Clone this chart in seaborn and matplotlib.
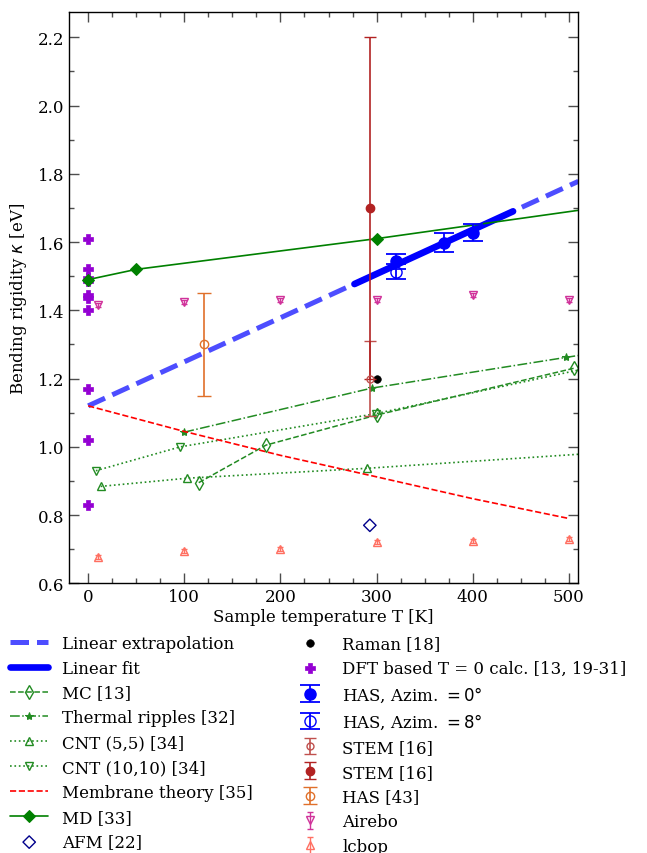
import matplotlib
matplotlib.use("Agg")
import matplotlib.pyplot as plt
import seaborn as sns
from matplotlib.ticker import MultipleLocator

# ---- data ------------------------------------------------------------------
extrap_T = [0, 510]
extrap_kappa = [1.12, 1.778]
fit_T = [277, 442]
fit_kappa = [1.477, 1.690]

mc_T = [115, 185, 300, 505]
mc_kappa = [0.895, 1.005, 1.093, 1.23]
ripples_T = [100, 295, 497, 520]
ripples_kappa = [1.043, 1.172, 1.262, 1.272]
cnt55_T = [13, 103, 290, 520]
cnt55_kappa = [0.884, 0.908, 0.937, 0.98]
cnt1010_T = [8, 96, 299, 520]
cnt1010_kappa = [0.93, 1.0, 1.097, 1.231]
membrane_T = [0, 100, 200, 300, 400, 500]
membrane_kappa = [1.12, 1.045, 0.975, 0.912, 0.848, 0.79]
md_T = [0, 50, 300, 520]
md_kappa = [1.49, 1.52, 1.61, 1.697]

afm_T = [293]
afm_kappa = [0.77]
raman_T = [300]
raman_kappa = [1.20]
dft_T = [0, 0, 0, 0, 0, 0, 0, 0, 0, 0]
dft_kappa = [1.61, 1.52, 1.495, 1.485, 1.445, 1.435, 1.40, 1.17, 1.02, 0.83]

has0_T = [320, 370, 400]
has0_kappa = [1.544, 1.598, 1.627]
has0_err = [0.022, 0.028, 0.025]
has8_T = [320]
has8_kappa = [1.513]
has8_err = [0.022]
stem_open_T = [293]
stem_open_kappa = [1.20]
stem_open_err = [0.11]
stem_filled_T = [293]
stem_filled_kappa = [1.70]
stem_filled_err = [0.50]
has43_T = [120]
has43_kappa = [1.30]
has43_err = [0.15]
airebo_T = [10, 100, 200, 300, 400, 500]
airebo_kappa = [1.415, 1.425, 1.43, 1.43, 1.445, 1.43]
lcbop_T = [10, 100, 200, 300, 400, 500]
lcbop_kappa = [0.676, 0.695, 0.70, 0.72, 0.725, 0.73]
small_err = 0.006

GREEN = "forestgreen"

sns.set_theme(style="ticks")
plt.rcParams["font.family"] = ["DejaVu Serif"]
plt.rcParams["mathtext.fontset"] = "dejavusans"
plt.rcParams["text.color"] = "black"
plt.rcParams["axes.labelcolor"] = "black"
plt.rcParams["xtick.color"] = "black"
plt.rcParams["ytick.color"] = "black"

fig = plt.figure(figsize=(6.47, 8.54), dpi=100)
ax = fig.add_axes([0.1066, 0.3158, 0.7874, 0.6693])

# ---- lines -----------------------------------------------------------------
sns.lineplot(x=extrap_T, y=extrap_kappa, ax=ax, color="#4d4dff", lw=3.6,
             linestyle="--", label="Linear extrapolation", sort=False)
sns.lineplot(x=fit_T, y=fit_kappa, ax=ax, color="#0000ff", lw=4.8,
             label="Linear fit", sort=False)
sns.lineplot(x=mc_T, y=mc_kappa, ax=ax, color=GREEN, lw=1.1, linestyle="--",
             marker="d", ms=7, markerfacecolor="none", markeredgecolor=GREEN,
             markeredgewidth=1.0, label="MC [13]", sort=False)
sns.lineplot(x=ripples_T, y=ripples_kappa, ax=ax, color=GREEN, lw=1.1,
             linestyle="-.", marker="*", ms=6, markeredgecolor=GREEN,
             label="Thermal ripples [32]", sort=False)
sns.lineplot(x=cnt55_T, y=cnt55_kappa, ax=ax, color=GREEN, lw=1.2,
             linestyle=":", marker="^", ms=6, markerfacecolor="none",
             markeredgecolor=GREEN, markeredgewidth=1.0,
             label="CNT (5,5) [34]", sort=False)
sns.lineplot(x=cnt1010_T, y=cnt1010_kappa, ax=ax, color=GREEN, lw=1.2,
             linestyle=":", marker="v", ms=6, markerfacecolor="none",
             markeredgecolor=GREEN, markeredgewidth=1.0,
             label="CNT (10,10) [34]", sort=False)
sns.lineplot(x=membrane_T, y=membrane_kappa, ax=ax, color="red", lw=1.2,
             linestyle="--", label="Membrane theory [35]", sort=False)
sns.lineplot(x=md_T, y=md_kappa, ax=ax, color="green", lw=1.2, marker="D",
             ms=6, markeredgecolor="green", label="MD [33]", sort=False)

# ---- single points ---------------------------------------------------------
sns.scatterplot(x=afm_T, y=afm_kappa, ax=ax, marker="D", s=40,
                facecolor="none", edgecolor="#00008b", linewidth=1.0,
                label="AFM [22]")
sns.scatterplot(x=raman_T, y=raman_kappa, ax=ax, marker="o", s=30,
                color="black", edgecolor="black", label="Raman [18]")
sns.scatterplot(x=dft_T, y=dft_kappa, ax=ax, marker="P", s=55,
                color="darkviolet", edgecolor="darkviolet", linewidth=0.5,
                label="DFT based T = 0 calc. [13, 19-31]")

# ---- error bar series ------------------------------------------------------
ax.errorbar(has0_T, has0_kappa, yerr=has0_err, fmt="o", color="#0000ff",
            ms=8, capsize=7, elinewidth=1.3, capthick=1.3,
            label="HAS, Azim. $= 0°$", zorder=5)
ax.errorbar(has8_T, has8_kappa, yerr=has8_err, fmt="o", color="#0000ff",
            mfc="none", ms=8, capsize=7, elinewidth=1.3, capthick=1.3,
            label="HAS, Azim. $= 8°$", zorder=5)
ax.errorbar(stem_open_T, stem_open_kappa, yerr=stem_open_err, fmt="o",
            color="#c0504d", mfc="none", ms=5, capsize=4, elinewidth=1.2,
            label="STEM [16]")
ax.errorbar(stem_filled_T, stem_filled_kappa, yerr=stem_filled_err, fmt="o",
            color="#b22222", ms=6, capsize=4, elinewidth=1.2,
            label="STEM [16]")
ax.errorbar(has43_T, has43_kappa, yerr=has43_err, fmt="o", color="#e0702a",
            mfc="none", ms=6, capsize=5, elinewidth=1.2, label="HAS [43]")
ax.errorbar(airebo_T, airebo_kappa, yerr=small_err, fmt="v",
            color="#d0329a", mfc="none", ms=6, capsize=2, elinewidth=1.0,
            label="Airebo")
ax.errorbar(lcbop_T, lcbop_kappa, yerr=small_err, fmt="^",
            color="#ff6f61", mfc="none", ms=6, capsize=2, elinewidth=1.0,
            label="lcbop")

# ---- axes ------------------------------------------------------------------
ax.set_xlim(-20, 510)
ax.set_ylim(0.6, 2.275)
ax.xaxis.set_major_locator(MultipleLocator(100))
ax.xaxis.set_minor_locator(MultipleLocator(25))
ax.yaxis.set_major_locator(MultipleLocator(0.2))
ax.yaxis.set_minor_locator(MultipleLocator(0.1))
ax.tick_params(which="both", direction="in", top=True, right=True,
               labelsize=12, color="0.3")
ax.tick_params(which="major", length=7, width=1.0)
ax.tick_params(which="minor", length=3.5, width=1.0)
for sp in ax.spines.values():
    sp.set_linewidth(1.0)
    sp.set_color("black")
ax.set_xlabel("Sample temperature T [K]", fontsize=12, labelpad=2)
ax.set_ylabel(r"Bending rigidity $\kappa$ [eV]", fontsize=12, labelpad=6)

handles, labels = ax.get_legend_handles_labels()
if ax.get_legend() is not None:
    ax.get_legend().remove()
fig.legend(handles, labels, loc="upper left", bbox_to_anchor=(0.0155, 0.2555),
           ncol=2, frameon=False, fontsize=12, handlelength=2.3,
           borderaxespad=0, borderpad=0, columnspacing=2.3,
           labelspacing=0.47)

fig.savefig("out.png", dpi=100)
